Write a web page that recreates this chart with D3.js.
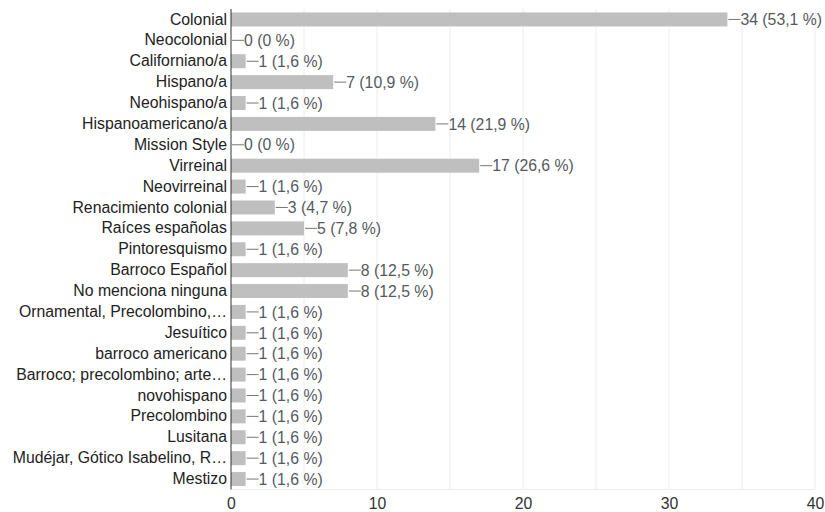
<!DOCTYPE html>
<html>
<head>
<meta charset="utf-8">
<script src="https://cdn.jsdelivr.net/npm/d3@7"></script>
<style>
  html, body { margin: 0; padding: 0; background: #fff; }
  svg { display: block; font-family: "Liberation Sans", Arial, sans-serif; }
</style>
</head>
<body>
<svg id="chart" width="825" height="512"></svg>
<script>
// Estilos arquitectónicos mencionados (respuestas)
const categories = [
  "Colonial", "Neocolonial", "Californiano/a", "Hispano/a", "Neohispano/a",
  "Hispanoamericano/a", "Mission Style", "Virreinal", "Neovirreinal",
  "Renacimiento colonial", "Raíces españolas", "Pintoresquismo",
  "Barroco Español", "No menciona ninguna", "Ornamental, Precolombino,…",
  "Jesuítico", "barroco americano", "Barroco; precolombino; arte…",
  "novohispano", "Precolombino", "Lusitana", "Mudéjar, Gótico Isabelino, R…",
  "Mestizo"
];
const counts = [34, 0, 1, 7, 1, 14, 0, 17, 1, 3, 5, 1, 8, 8, 1, 1, 1, 1, 1, 1, 1, 1, 1];
const percents = ["53,1", "0", "1,6", "10,9", "1,6", "21,9", "0", "26,6", "1,6", "4,7",
  "7,8", "1,6", "12,5", "12,5", "1,6", "1,6", "1,6", "1,6", "1,6", "1,6", "1,6", "1,6", "1,6"];
const xTicks = [0, 10, 20, 30, 40];

const rows = categories.map((c, i) => ({ name: c, value: counts[i], pct: percents[i] }));

const svg = d3.select("#chart");
const plotLeft = 231, plotRight = 815, plotTop = 9, plotBottom = 489.5;
const fontSize = 15.8;

const x = d3.scaleLinear().domain([0, 40]).range([plotLeft, plotRight]);
const y = d3.scaleBand().domain(categories).range([plotTop, plotBottom]).paddingInner(0.33).paddingOuter(0.165);

// Light vertical grid every 5 units
svg.append("g").selectAll("line")
  .data(d3.range(5, 41, 5))
  .join("line")
  .attr("x1", d => x(d)).attr("x2", d => x(d))
  .attr("y1", plotTop).attr("y2", plotBottom)
  .attr("stroke", "#ececec").attr("stroke-width", 1);

// Bottom border of the plot
svg.append("line")
  .attr("x1", plotLeft).attr("x2", plotRight)
  .attr("y1", plotBottom).attr("y2", plotBottom)
  .attr("stroke", "#ececec");

// Bars
svg.append("g").selectAll("rect")
  .data(rows)
  .join("rect")
  .attr("x", x(0))
  .attr("y", d => y(d.name))
  .attr("width", d => x(d.value) - x(0))
  .attr("height", y.bandwidth())
  .attr("fill", "#bfbfbf");

// Leader lines and value labels
const lab = svg.append("g");
lab.selectAll("line")
  .data(rows)
  .join("line")
  .attr("x1", d => x(d.value) + 1)
  .attr("x2", d => x(d.value) + 13)
  .attr("y1", d => y(d.name) + y.bandwidth() / 2)
  .attr("y2", d => y(d.name) + y.bandwidth() / 2)
  .attr("stroke", "#777").attr("stroke-width", 1);
lab.selectAll("text")
  .data(rows)
  .join("text")
  .attr("x", d => x(d.value) + 13)
  .attr("y", d => y(d.name) + y.bandwidth() / 2)
  .attr("dy", "0.36em")
  .attr("font-size", fontSize)
  .attr("fill", "#555a60")
  .text(d => `${d.value} (${d.pct} %)`);

// Category axis
const yAxis = svg.append("g")
  .attr("transform", `translate(${plotLeft},0)`)
  .call(d3.axisLeft(y).tickSize(0).tickPadding(4));
yAxis.select(".domain").attr("stroke", "#333").attr("d", `M0,${plotTop}V${plotBottom}`);
yAxis.selectAll("text")
  .attr("font-size", fontSize)
  .attr("fill", "#222")
  .attr("font-family", "'Liberation Sans', Arial, sans-serif");

// Value axis
const xAxis = svg.append("g")
  .attr("transform", `translate(0,${plotBottom})`)
  .call(d3.axisBottom(x).tickValues(xTicks).tickSize(0).tickPadding(8));
xAxis.select(".domain").remove();
xAxis.selectAll("text")
  .attr("font-size", fontSize)
  .attr("fill", "#333")
  .attr("font-family", "'Liberation Sans', Arial, sans-serif");
</script>
</body>
</html>
